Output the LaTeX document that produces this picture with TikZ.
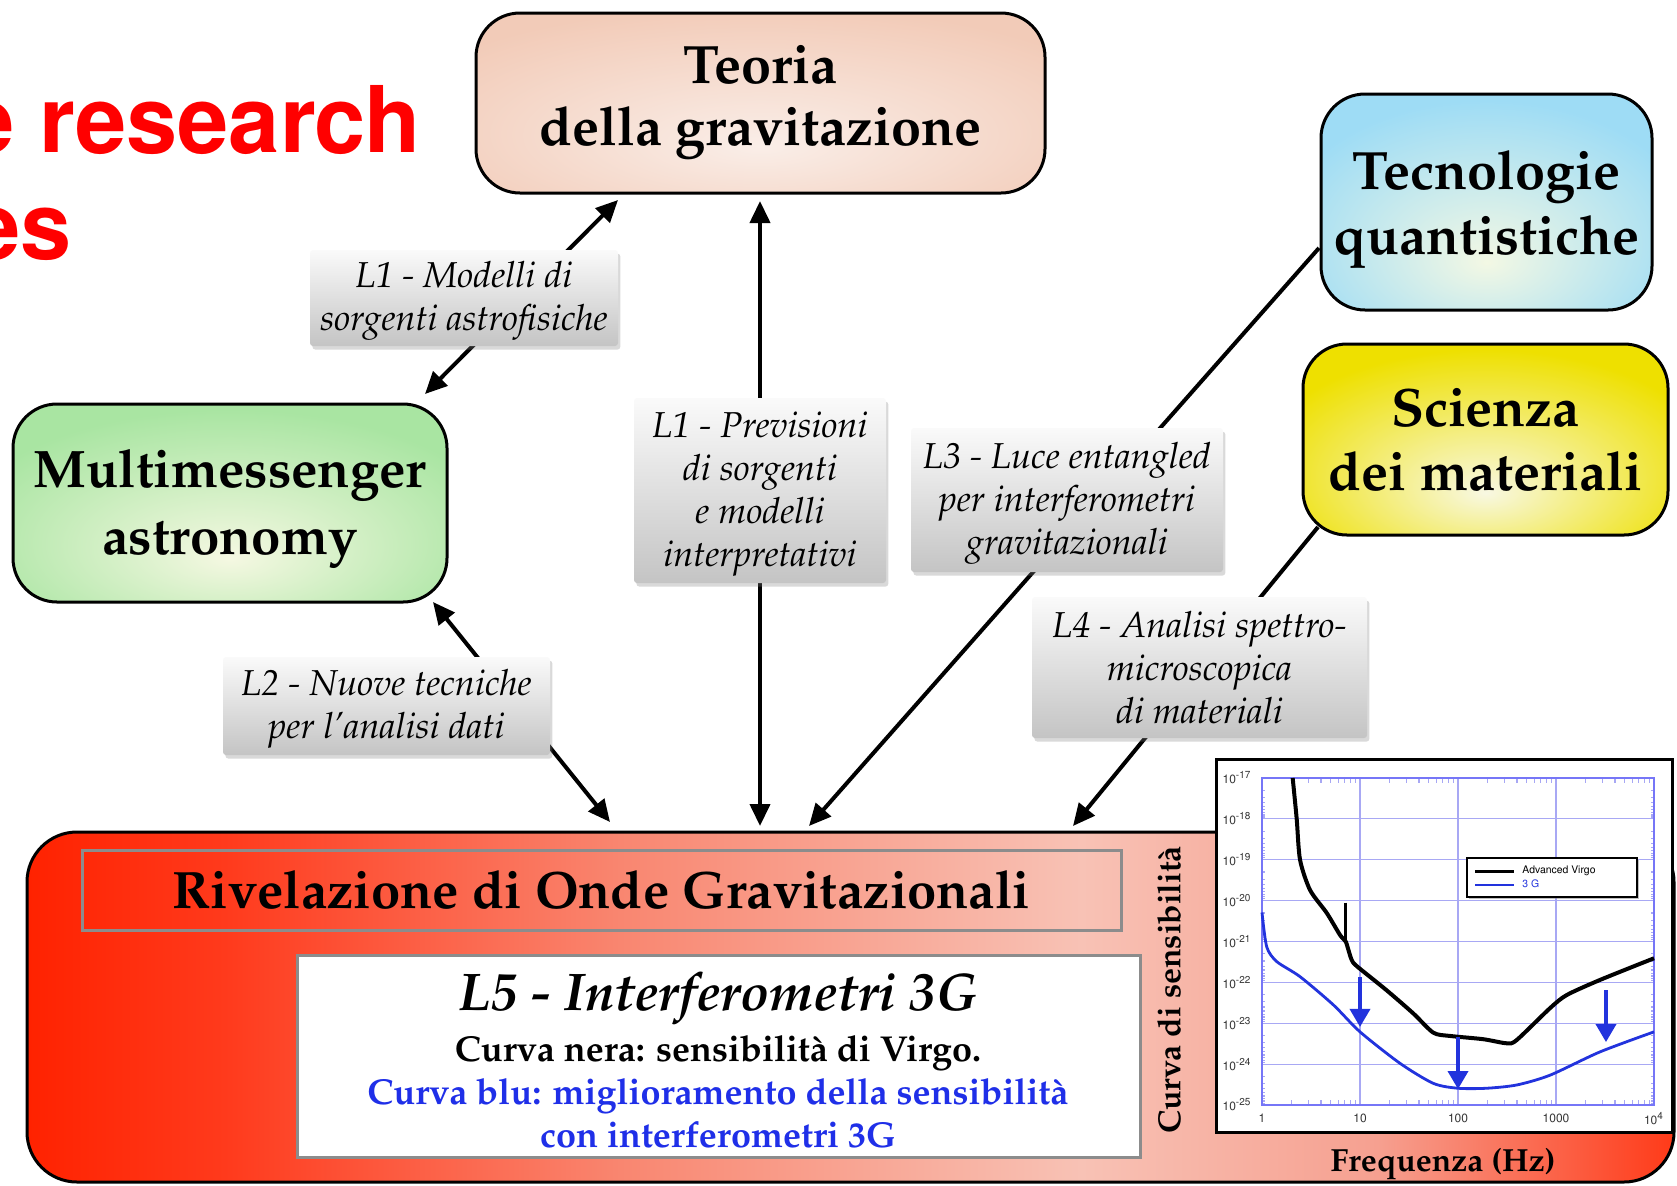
\documentclass[tikz,border=0pt]{standalone}
\usepackage[T1]{fontenc}
\renewcommand{\rmdefault}{ppl}
\renewcommand{\sfdefault}{phv}
\usetikzlibrary{arrows.meta,shadows}

\definecolor{teoOut}{HTML}{F2CBB8}
\definecolor{teoIn}{HTML}{FAEEE8}
\definecolor{tecOut}{HTML}{9EDCF5}
\definecolor{tecIn}{HTML}{F3F8E4}
\definecolor{sciOut}{HTML}{EEE000}
\definecolor{sciIn}{HTML}{F8F8E2}
\definecolor{mulOut}{HTML}{A9E5A2}
\definecolor{mulIn}{HTML}{F5F8E2}
\definecolor{redA}{HTML}{FF2200}
\definecolor{redA2}{HTML}{FF3A1C}
\definecolor{redB}{HTML}{F98670}
\definecolor{redC}{HTML}{F8C2B5}
\definecolor{redE}{HTML}{F6A090}
\definecolor{redD}{HTML}{FF3A18}
\definecolor{blueTxt}{HTML}{1F2FE8}
\definecolor{gridBlue}{HTML}{A8A8F4}
\definecolor{curveBlue}{HTML}{2233DD}
\definecolor{labTop}{HTML}{FAFAFA}
\definecolor{labBot}{HTML}{C4C4C4}
\definecolor{frameGray}{HTML}{8C8C8C}

\pgfdeclareradialshading{teoShade}{\pgfpoint{0bp}{-12bp}}{color(0bp)=(teoIn); color(34bp)=(teoOut); color(80bp)=(teoOut)}
\pgfdeclareradialshading{tecShade}{\pgfpoint{0bp}{-14bp}}{color(0bp)=(tecIn); color(32bp)=(tecOut); color(80bp)=(tecOut)}
\pgfdeclareradialshading{sciShade}{\pgfpoint{0bp}{-14bp}}{color(0bp)=(sciIn); color(32bp)=(sciOut); color(80bp)=(sciOut)}
\pgfdeclareradialshading{mulShade}{\pgfpoint{0bp}{-14bp}}{color(0bp)=(mulIn); color(32bp)=(mulOut); color(80bp)=(mulOut)}
\pgfdeclarehorizontalshading{redShade}{100bp}{color(0bp)=(redA); color(25bp)=(redA); color(31bp)=(redA2); color(43bp)=(redB); color(57bp)=(redC); color(66bp)=(redE); color(75bp)=(redD); color(100bp)=(redD)}

\begin{document}
\begin{tikzpicture}[x=0.5pt,y=-0.5pt,
  topic/.style={draw=black, line width=1.5pt, rounded corners=22pt, inner sep=0pt},
  topictxt/.style={align=center, inner sep=0pt, font=\fontsize{27}{#1}\selectfont\bfseries},
  lab/.style={top color=labTop, bottom color=labBot, inner sep=0pt, rounded corners=1.5pt, drop shadow={shadow xshift=1.2pt, shadow yshift=-1.8pt, opacity=0.3}},
  labtxt/.style={align=center, inner sep=0pt, yshift=-1.5pt, font=\fontsize{18}{21.5}\selectfont\itshape},
  link/.style={line width=2pt, -{Triangle[length=11pt,width=10pt]}},
  blink/.style={line width=2pt, {Triangle[length=11pt,width=10pt]}-{Triangle[length=11pt,width=10pt]}},
  gline/.style={gridBlue, line width=0.6pt},
  ticklab/.style={font=\fontsize{6}{7}\selectfont\sffamily, text=black!80, inner sep=0pt},
  titlefont/.style={anchor=base east, inner sep=0pt, text=red, font=\fontsize{46}{50}\selectfont\sffamily\bfseries}
]
\useasboundingbox (0,0) rectangle (1677,1185);

% title fragments
\node[titlefont] (title1) at (421,152) {e research};
\node[titlefont] (title2) at (72,258) {es};

% topic boxes
\node[topic, shading=teoShade, minimum width=284.5pt, minimum height=90pt,
  label={[topictxt=31pt]center:Teoria\\della gravitazione}] (teoria) at (760.5,103) {};
\node[topic, shading=tecShade, minimum width=165.5pt, minimum height=108pt,
  label={[topictxt=32.6pt, yshift=-3.5pt]center:Tecnologie\\quantistiche}] (tecno) at (1486.5,202) {};
\node[topic, shading=sciShade, minimum width=182.5pt, minimum height=95.5pt,
  label={[topictxt=32pt]center:Scienza\\dei materiali}] (scienza) at (1485.5,439.5) {};
\node[topic, shading=mulShade, minimum width=217pt, minimum height=99pt,
  label={[topictxt=33.5pt, yshift=-3pt, font=\fontsize{26.4}{33.5}\selectfont\bfseries]center:Multimessenger\\astronomy}] (multi) at (230,503) {};

% big detection box
\node[draw=black, line width=1.5pt, rounded corners=25pt, shading=redShade, minimum width=823.5pt, minimum height=175pt, inner sep=0pt] (riv) at (850.5,1007) {};
\node[draw=frameGray, line width=1.5pt, minimum width=519.5pt, minimum height=40pt, inner sep=0pt, font=\fontsize{26.3}{30}\selectfont\bfseries] (rivtitle) at (601.5,890) {Rivelazione di Onde Gravitazionali};

\node[draw=frameGray, fill=white, line width=1.5pt, minimum width=421.5pt, minimum height=101pt, inner sep=0pt] (l5box) at (718.5,1056) {};
\node[anchor=base, inner sep=0pt, font=\fontsize{26.5}{28}\selectfont\bfseries\itshape] (l5title) at (718,1010) {L5 - Interferometri 3G};
\node[anchor=base, inner sep=0pt, font=\fontsize{18}{20}\selectfont\bfseries] (nera) at (718,1061) {Curva nera: sensibilit\`a di Virgo.};
\node[anchor=base, inner sep=0pt, text=blueTxt, font=\fontsize{18}{20}\selectfont\bfseries] (blu1) at (718,1104) {Curva blu: miglioramento della sensibilit\`a};
\node[anchor=base, inner sep=0pt, text=blueTxt, font=\fontsize{18}{20}\selectfont\bfseries] (blu2) at (718,1147) {con interferometri 3G};

\node[rotate=90, inner sep=0pt, font=\fontsize{16}{18}\selectfont\bfseries] (curvasens) at (1169,990) {Curva di sensibilit\`a};

% plot
\node[draw=black, fill=white, line width=1.5pt, minimum width=228pt, minimum height=186.5pt, inner sep=0pt] (plotframe) at (1444,945.5) {};
\begin{scope}[shift={(1262,778)}, x=49pt, y=-20.4375pt]
  \foreach \i in {1,2,3} \draw[gline] (\i,0) -- (\i,8);
  \foreach \j in {1,...,7} \draw[gline] (0,\j) -- (4,\j);
  \foreach \i in {0,1,2,3} {
    \foreach \m in {2,...,9} {
      \draw[gline] ({\i+log10(\m)},0) -- ++(0,0.12);
      \draw[gline] ({\i+log10(\m)},8) -- ++(0,-0.12);
    }
  }
  \foreach \j in {0,...,7} {
    \foreach \m in {2,...,9} {
      \draw[gline] (0,{\j+log10(\m)}) -- ++(0.035,0);
      \draw[gline] (4,{\j+log10(\m)}) -- ++(-0.035,0);
    }
  }
  \draw[gridBlue!70!blue, line width=0.8pt] (0,0) rectangle (4,8);
  \foreach \e [count=\j from 0] in {17,...,25} \node[ticklab] at (-0.255,\j) {10\textsuperscript{-\e}};
  \node[ticklab] at (0,8.32) {1};
  \node[ticklab] at (1,8.32) {10};
  \node[ticklab] at (2,8.32) {100};
  \node[ticklab] at (3,8.32) {1000};
  \node[ticklab] at (4,8.32) {10\textsuperscript{4}};
  % Advanced Virgo
  \draw[black, line width=2pt, line join=round] plot[smooth, tension=0.45] coordinates {(0.313,0) (0.354,1) (0.388,2) (0.49,2.74) (0.66,3.3) (0.796,3.84) (0.854,4.0) (0.881,4.2) (0.915,4.45) (0.966,4.6) (1.27,5.19) (1.544,5.76) (1.748,6.23) (1.918,6.31) (2.258,6.39) (2.497,6.49) (2.599,6.41) (2.939,5.63) (3.109,5.31) (3.449,4.94) (4.0,4.41)};
  \draw[black, line width=1.5pt] (0.854,3.05) -- (0.854,4.0);
  % 3G
  \draw[curveBlue, line width=1.4pt] plot[smooth, tension=0.45] coordinates {(0,3.29) (0.048,4.13) (0.15,4.49) (0.388,4.86) (0.728,5.55) (1.0,6.21) (1.408,6.98) (1.748,7.47) (2.0,7.59) (2.29,7.59) (2.599,7.51) (2.939,7.27) (3.449,6.70) (4.0,6.21)};
  \draw[curveBlue, line width=1.8pt, -{Triangle[length=9pt,width=10pt]}] (1.0,4.87) -- (1.0,6.09);
  \draw[curveBlue, line width=1.8pt, -{Triangle[length=9pt,width=10pt]}] (2.0,6.34) -- (2.0,7.61);
  \draw[curveBlue, line width=1.8pt, -{Triangle[length=9pt,width=10pt]}] (3.51,5.19) -- (3.51,6.46);
\end{scope}
% legend
\node[draw=black, fill=white, line width=0.9pt, minimum width=85pt, minimum height=19.5pt, inner sep=0pt, drop shadow={shadow xshift=1pt, shadow yshift=-1pt, opacity=0.5}] (legend) at (1552,877.5) {};
\draw[black, line width=1.5pt] (1475,871) -- (1514,871);
\draw[curveBlue, line width=1.1pt] (1475,885) -- (1514,885);
\node[anchor=west, inner sep=0pt, font=\fontsize{5.2}{6}\selectfont\sffamily] (legav) at (1522,871) {Advanced Virgo};
\node[anchor=west, inner sep=0pt, text=curveBlue, font=\fontsize{5.2}{6}\selectfont\sffamily] (leg3g) at (1522,884) {3 G};
\node[anchor=base, inner sep=0pt, font=\fontsize{16}{18}\selectfont\bfseries] (freq) at (1443,1171) {Frequenza (Hz)};

% connectors
\coordinate (a1s) at (425,394); \coordinate (a1e) at (618,200);
\coordinate (a2s) at (760,201); \coordinate (a2e) at (760,826);
\coordinate (a3s) at (433,602); \coordinate (a3e) at (610,822);
\coordinate (a4s) at (1319,248); \coordinate (a4e) at (809,826);
\coordinate (a5s) at (1318,527); \coordinate (a5e) at (1073,826);
\draw[blink] (a1s) -- (a1e);
\draw[blink] (a2s) -- (a2e);
\draw[blink] (a3s) -- (a3e);
\draw[link] (a4s) -- (a4e);
\draw[link] (a5s) -- (a5e);

% label boxes
\node[lab, minimum width=154pt, minimum height=48pt,
  label={[labtxt]center:L1 - Modelli di\\sorgenti astrofisiche}] (lmod) at (464,298) {};
\node[lab, minimum width=126pt, minimum height=92.5pt,
  label={[labtxt]center:L1 - Previsioni\\di sorgenti\\e modelli\\interpretativi}] (lprev) at (760,490.5) {};
\node[lab, minimum width=156pt, minimum height=72pt,
  label={[labtxt]center:L3 - Luce entangled\\per interferometri\\gravitazionali}] (lluce) at (1067,500) {};
\node[lab, minimum width=167.5pt, minimum height=70.5pt,
  label={[labtxt, yshift=1.5pt]center:L4 - Analisi spettro-\\microscopica\\di materiali}] (lanal) at (1199.5,667.5) {};
\node[lab, minimum width=163.5pt, minimum height=49pt,
  label={[labtxt]center:L2 - Nuove tecniche\\per l'analisi dati}] (ltec) at (386.5,706) {};
\end{tikzpicture}
\end{document}
